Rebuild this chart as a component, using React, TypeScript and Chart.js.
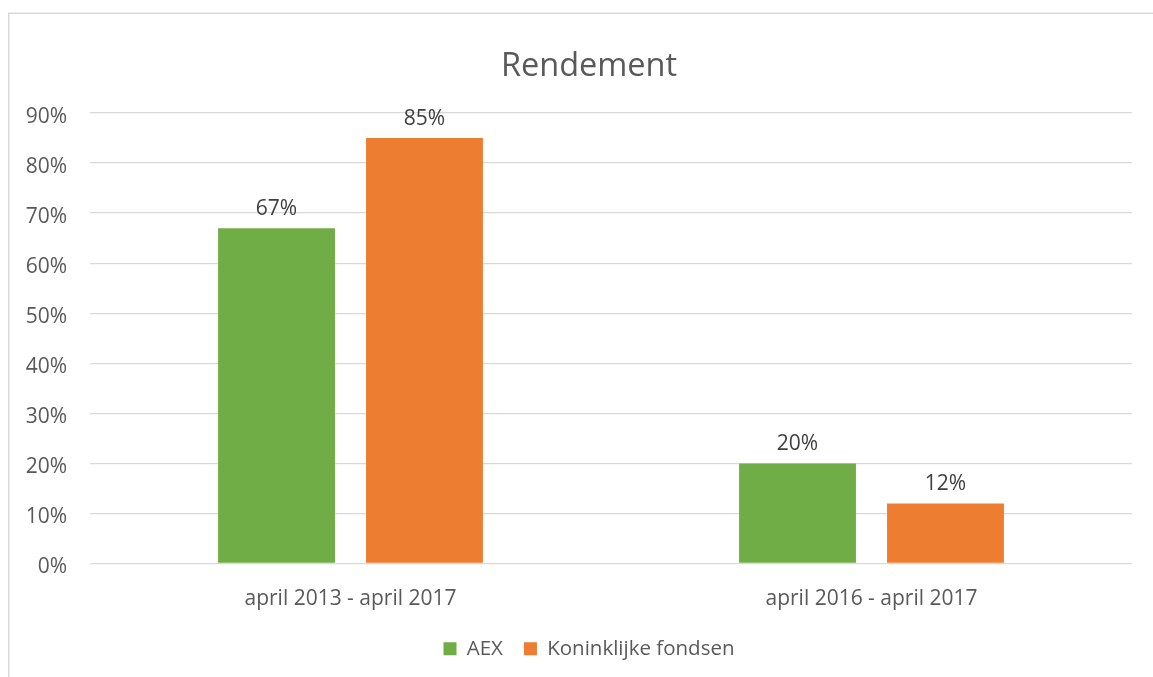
import React, { useEffect, useRef } from "react";
import { Chart, registerables } from "chart.js";

Chart.register(...registerables);

const categories = ["april 2013 - april 2017", "april 2016 - april 2017"];
const seriesNames = ["AEX", "Koninklijke fondsen"];
const aexValues = [67, 20];
const koninklijkeValues = [85, 12];
const yTicks = [0, 10, 20, 30, 40, 50, 60, 70, 80, 90];

const FONT = "'Open Sans', 'Noto Sans', sans-serif";

const frame = {
  id: "frame",
  afterLayout(chart: any) {
    // let the y tick labels use the space left of the axis box
    const y = chart.scales.y;
    if (y) y.left = 0;
  },
  beforeDraw(chart: any) {
    const ctx = chart.ctx;
    ctx.save();
    ctx.fillStyle = "#ffffff";
    ctx.fillRect(0, 0, chart.width, chart.height);
    ctx.strokeStyle = "#d9d9d9";
    ctx.lineWidth = 1.5;
    ctx.beginPath();
    ctx.moveTo(8.75, chart.height + 5);
    ctx.lineTo(8.75, 13.25);
    ctx.lineTo(chart.width + 5, 13.25);
    ctx.stroke();
    ctx.restore();
  },
};

const dataLabels = {
  id: "dataLabels",
  afterDatasetsDraw(chart: any) {
    const ctx = chart.ctx;
    ctx.save();
    ctx.fillStyle = "#404040";
    ctx.font = `21px ${FONT}`;
    ctx.textAlign = "center";
    ctx.textBaseline = "alphabetic";
    chart.data.datasets.forEach((ds: any, i: number) => {
      const meta = chart.getDatasetMeta(i);
      meta.data.forEach((bar: any, j: number) => {
        ctx.fillText(`${ds.data[j]}%`, bar.x, bar.y - 13);
      });
    });
    ctx.restore();
  },
};

export default function App() {
  const ref = useRef<HTMLCanvasElement>(null);
  useEffect(() => {
    if (!ref.current) return;
    const chart = new Chart(ref.current, {
      type: "bar",
      data: {
        labels: categories,
        datasets: [
          {
            label: seriesNames[0],
            data: aexValues,
            backgroundColor: "#70AD47",
            categoryPercentage: 0.568,
            barPercentage: 0.79,
          },
          {
            label: seriesNames[1],
            data: koninklijkeValues,
            backgroundColor: "#ED7D31",
            categoryPercentage: 0.568,
            barPercentage: 0.79,
          },
        ],
      },
      options: {
        responsive: false,
        animation: false,
        layout: { padding: { left: 46, right: 21, top: 0, bottom: 8 } },
        plugins: {
          title: {
            display: true,
            text: "Rendement",
            color: "#595959",
            font: { family: FONT, size: 32.5, weight: "normal" },
            padding: { top: 47, bottom: 27 },
          },
          legend: {
            position: "bottom",
            labels: {
              color: "#595959",
              font: { family: FONT, size: 20.5 },
              boxWidth: 13,
              boxHeight: 13,
              padding: 21,
            },
          },
          tooltip: { enabled: false },
        },
        scales: {
          x: {
            grid: { display: false, drawTicks: false },
            border: { display: false },
            ticks: {
              color: "#595959",
              font: { family: FONT, size: 21 },
              padding: 23,
            },
            afterFit(scale: any) {
              scale.height = 54;
            },
          },
          y: {
            min: 0,
            max: 90,
            afterBuildTicks(scale: any) {
              scale.ticks = yTicks.map((v) => ({ value: v }));
            },
            grid: { color: "#d9d9d9", lineWidth: 1.3, drawTicks: false },
            border: { display: false },
            ticks: {
              color: "#595959",
              font: { family: FONT, size: 21 },
              padding: 23,
              labelOffset: 4,
              callback: (v: any) => `${v}%`,
            },
            afterFit(scale: any) {
              scale.width = 44;
            },
          },
        },
      },
      plugins: [frame, dataLabels],
    });
    return () => chart.destroy();
  }, []);
  return (
    <div style={{ position: "fixed", left: 0, top: 0, width: 1153, height: 677, overflow: "hidden" }}>
      <canvas ref={ref} width={1153} height={677} />
    </div>
  );
}
